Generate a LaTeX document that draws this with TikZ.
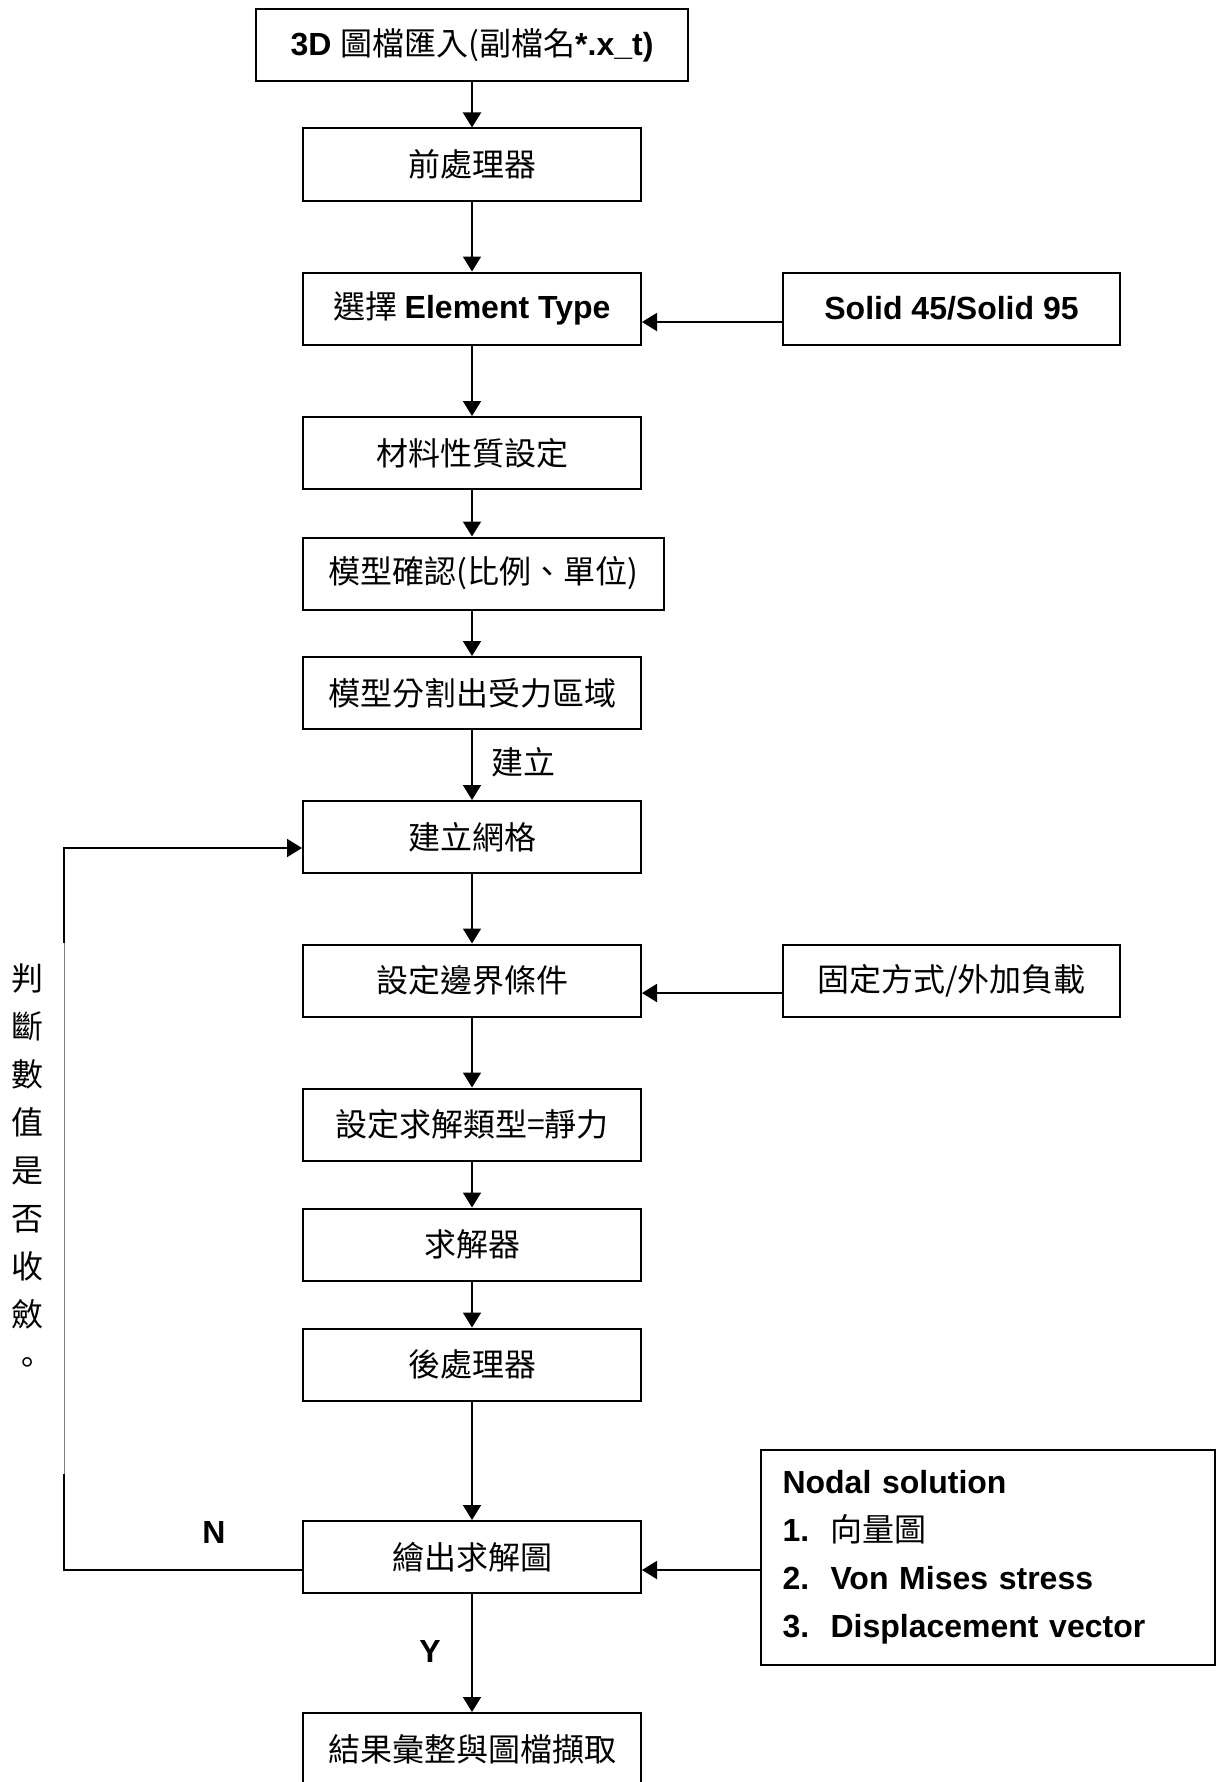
\documentclass[tikz,border=0pt]{standalone}
\usepackage{fontspec}
\setmainfont{Liberation Sans}
\newfontfamily\cjk{Noto Sans CJK TC}
\usetikzlibrary{arrows.meta}
\newcommand\latb[1]{{\normalfont\bfseries #1}}
\tikzset{
  box/.style={draw, line width=1pt, minimum width=169pt, minimum height=36pt, inner sep=0pt,
    font=\fontsize{16}{20}\selectfont\cjk},
  conn/.style={line width=1pt},
  arr/.style={line width=1pt, -{Triangle[length=7.5pt,width=9pt]}},
  lbl/.style={inner sep=0pt, font=\fontsize{16}{20}\selectfont\cjk},
  blbl/.style={inner sep=0pt, font=\fontsize{16}{20}\selectfont\bfseries},
}
\begin{document}
\begin{tikzpicture}[x=0.5pt,y=-0.5pt]
\clip (0,0) rectangle (1223,1782);
\fill[white] (0,0) rectangle (1223,1782);
% main column
\node[box, minimum width=216pt] (b1) at (472,45) {\latb{3D }圖檔匯入(副檔名\latb{*.x\_t)}};
\node[box] (b2) at (472,164.5) {前處理器};
\node[box] (b3) at (472,308.5) {選擇 \latb{Element Type}};
\node[box] (b4) at (472,453) {材料性質設定};
\node[box, minimum width=180.5pt] (b5) at (483.5,573.5) {模型確認(比例、單位)};
\node[box] (b6) at (472,693) {模型分割出受力區域};
\node[box] (b7) at (472,837) {建立網格};
\node[box] (b8) at (472,980.5) {設定邊界條件};
\node[box] (b9) at (472,1124.5) {設定求解類型=靜力};
\node[box] (b10) at (472,1244.5) {求解器};
\node[box] (b11) at (472,1364.5) {後處理器};
\node[box] (b12) at (472,1557) {繪出求解圖};
\node[box] (b13) at (472,1749) {結果彙整與圖檔擷取};
% side boxes
\node[box, minimum width=168.5pt, font=\fontsize{16}{20}\selectfont\bfseries] (solid) at (951.5,308.5) {Solid 45/Solid 95};
\node[box, minimum width=168.5pt] (fix) at (951.5,980.5) {固定方式/外加負載};
\node[draw, line width=1pt, minimum height=107.5pt, text width=205pt, inner xsep=11pt, inner ysep=0pt,
  align=left, font=\fontsize{16}{24}\selectfont\bfseries] (nodal) at (987.5,1557.5)
  {Nodal solution\\
   \makebox[24pt][l]{1.}{\cjk\mdseries 向量圖}\\
   \makebox[24pt][l]{2.}Von Mises stress\\
   \makebox[24pt][l]{3.}Displacement vector};
% labels
\node[lbl, align=center, font=\fontsize{16}{24}\selectfont\cjk] (judge) at (27,1169)
  {判\\斷\\數\\值\\是\\否\\收\\斂\\。};
\node[lbl] (build) at (523,762) {建立};
\node[blbl] (nlbl) at (214,1532) {N};
\node[blbl] (ylbl) at (430,1651) {Y};
% vertical connectors
\draw[arr] (b1) -- (b2);
\draw[arr] (b2) -- (b3);
\draw[arr] (b3) -- (b4);
\draw[arr] (b4.south) -- (b4.south |- b5.north);
\draw[arr] (b6.north |- b5.south) -- (b6.north);
\draw[arr] (b6) -- (b7);
\draw[arr] (b7) -- (b8);
\draw[arr] (b8) -- (b9);
\draw[arr] (b9) -- (b10);
\draw[arr] (b10) -- (b11);
\draw[arr] (b11) -- (b12);
\draw[arr] (b12) -- (b13);
% side connectors
\draw[arr] ([yshift=-6.75pt]solid.west) -- ([yshift=-6.75pt]solid.west -| b3.east);
\draw[arr] ([yshift=-6.25pt]fix.west) -- ([yshift=-6.25pt]fix.west -| b8.east);
\draw[arr] ([yshift=-6.5pt]b12.east -| nodal.west) -- ([yshift=-6.5pt]b12.east);
% feedback loop
\coordinate (c1) at (64,1474);
\coordinate (c2) at (64,943);
\draw[conn] ([yshift=-6.5pt]b12.west) -| (c1);
\draw[gray, line width=0.4pt] (c1) -- (c2);
\draw[arr] (c2) |- ([yshift=-5.5pt]b7.west);
\end{tikzpicture}
\end{document}
